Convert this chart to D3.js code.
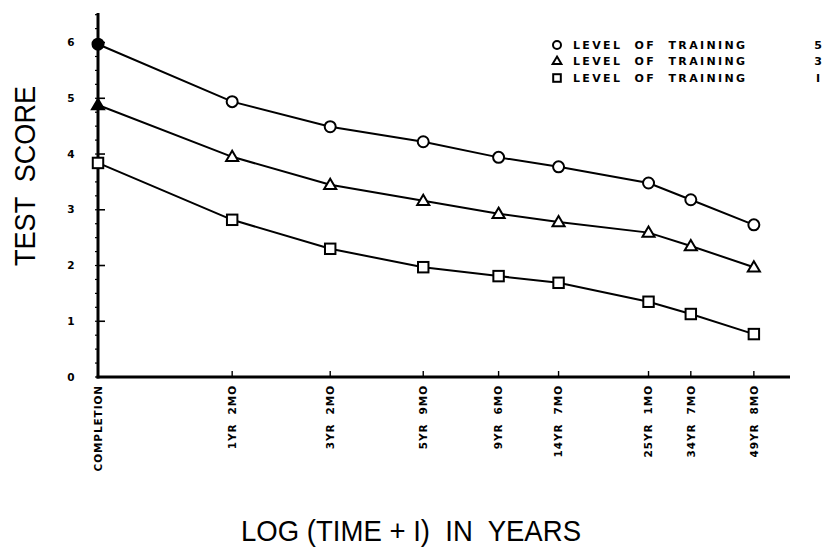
<!DOCTYPE html>
<html>
<head>
<meta charset="utf-8">
<script src="https://cdn.jsdelivr.net/npm/d3@7/dist/d3.min.js"></script>
<style>
  html, body { margin: 0; padding: 0; background: #fff; }
  svg { display: block; }
  text { fill: #000; }
  .tick-lab { font-family: "DejaVu Sans", sans-serif; font-weight: bold; font-size: 10.5px; white-space: pre; }
  .leg-lab { font-family: "DejaVu Sans", sans-serif; font-weight: bold; font-size: 11px; white-space: pre; }
  .title { font-family: "Liberation Sans", Arial, sans-serif; font-size: 29px; white-space: pre; }
</style>
</head>
<body>
<script>
// ---- data ----
const categories = ["COMPLETION", "1YR  2MO", "3YR  2MO", "5YR  9MO", "9YR  6MO",
                    "14YR  7MO", "25YR  1MO", "34YR  7MO", "49YR  8MO"];
// position on the LOG(TIME+1) axis, as plotted
const logTime = [0, 0.349, 0.604, 0.846, 1.042, 1.198, 1.432, 1.542, 1.706];
const level5 = [5.97, 4.94, 4.49, 4.22, 3.94, 3.77, 3.48, 3.18, 2.73];
const level3 = [4.88, 3.95, 3.45, 3.16, 2.93, 2.78, 2.59, 2.35, 1.97];
const level1 = [3.84, 2.82, 2.30, 1.97, 1.81, 1.69, 1.35, 1.13, 0.77];
const yTicks = [0, 1, 2, 3, 4, 5, 6];
const yTickLabels = ["0", "1", "2", "3", "4", "5", "6"];
const seriesNames = ["LEVEL  OF  TRAINING", "LEVEL  OF  TRAINING", "LEVEL  OF  TRAINING"];
const seriesLevels = ["5", "3", "I"];
const seriesShapes = ["circle", "triangle", "square"];

const W = 826, H = 549;
const svg = d3.select("body").append("svg").attr("width", W).attr("height", H);

const x = d3.scaleLinear().domain([0, 1.80]).range([98, 790]);
const y = d3.scaleLinear().domain([0, 6.53]).range([377, 13]);

// ---- axes ----
const g = svg.append("g");
// y minor ticks
g.selectAll(".ymin").data(d3.range(0, 6.51, 0.25)).join("line")
  .attr("x1", x(0) - 3).attr("x2", x(0))
  .attr("y1", d => y(d)).attr("y2", d => y(d))
  .attr("stroke", "#000").attr("stroke-width", 1.2);
// y major ticks
g.selectAll(".ymaj").data(yTicks).join("line")
  .attr("x1", x(0)).attr("x2", x(0) + 7)
  .attr("y1", d => y(d)).attr("y2", d => y(d))
  .attr("stroke", "#000").attr("stroke-width", 1.6);
// x ticks
g.selectAll(".xt").data(logTime).join("line")
  .attr("x1", d => x(d)).attr("x2", d => x(d))
  .attr("y1", y(0)).attr("y2", y(0) - 6)
  .attr("stroke", "#000").attr("stroke-width", 1.4);
// axis lines
g.append("line").attr("x1", x(0)).attr("x2", x(0)).attr("y1", y(6.53)).attr("y2", y(0) + 1.5)
  .attr("stroke", "#000").attr("stroke-width", 3);
g.append("line").attr("x1", x(0) - 1.5).attr("x2", x(1.80)).attr("y1", y(0)).attr("y2", y(0))
  .attr("stroke", "#000").attr("stroke-width", 3);

// y tick labels
g.selectAll(".ylab").data(yTicks).join("text")
  .attr("class", "tick-lab")
  .attr("x", 71).attr("y", d => y(d)).attr("dy", "0.35em")
  .attr("text-anchor", "middle")
  .text((d, i) => yTickLabels[i]);

// x tick labels (rotated)
g.selectAll(".xlab").data(categories).join("text")
  .attr("class", "tick-lab")
  .attr("transform", (d, i) => `translate(${x(logTime[i])},${y(0) + 8}) rotate(-90)`)
  .attr("dy", "0.36em")
  .attr("text-anchor", "end")
  .attr("letter-spacing", "0.9")
  .text(d => d);

// titles
svg.append("text").attr("class", "title")
  .attr("transform", "translate(35,176) rotate(-90)")
  .attr("text-anchor", "middle")
  .attr("textLength", 180).attr("lengthAdjust", "spacingAndGlyphs")
  .text("TEST  SCORE");
svg.append("text").attr("class", "title")
  .attr("x", 411).attr("y", 541)
  .attr("text-anchor", "middle")
  .attr("textLength", 340).attr("lengthAdjust", "spacingAndGlyphs")
  .text("LOG (TIME + I)  IN  YEARS");

// ---- series ----
const allSeries = [level5, level3, level1];
const line = d3.line().x((d, i) => x(logTime[i])).y(d => y(d));

function marker(sel, shape, size) {
  if (shape === "circle") {
    sel.append("circle").attr("r", size);
  } else if (shape === "triangle") {
    const s = size * 1.1;
    sel.append("path").attr("d", `M0,${-s} L${s},${s * 0.7} L${-s},${s * 0.7} Z`);
  } else {
    const s = size * 0.95;
    sel.append("rect").attr("x", -s).attr("y", -s).attr("width", 2 * s).attr("height", 2 * s);
  }
}

allSeries.forEach((vals, si) => {
  svg.append("path").datum(vals).attr("d", line)
    .attr("fill", "none").attr("stroke", "#000").attr("stroke-width", 2);
  vals.forEach((v, i) => {
    const m = svg.append("g").attr("transform", `translate(${x(logTime[i])},${y(v)})`)
      .attr("fill", (i === 0 && si < 2) ? "#000" : "#fff")
      .attr("stroke", "#000").attr("stroke-width", 2);
    marker(m, seriesShapes[si], 5.5);
  });
});

// ---- legend ----
const legY = [45, 61, 78];
seriesShapes.forEach((shape, i) => {
  const m = svg.append("g").attr("transform", `translate(557,${legY[i]})`)
    .attr("fill", "#fff").attr("stroke", "#000").attr("stroke-width", 2);
  marker(m, shape, 4);
  svg.append("text").attr("class", "leg-lab")
    .attr("x", 573).attr("y", legY[i]).attr("dy", "0.36em")
    .attr("textLength", 172).attr("lengthAdjust", "spacing")
    .text(seriesNames[i]);
  svg.append("text").attr("class", "leg-lab")
    .attr("x", 818).attr("y", legY[i]).attr("dy", "0.36em")
    .attr("text-anchor", "middle")
    .text(seriesLevels[i]);
});
</script>
</body>
</html>
